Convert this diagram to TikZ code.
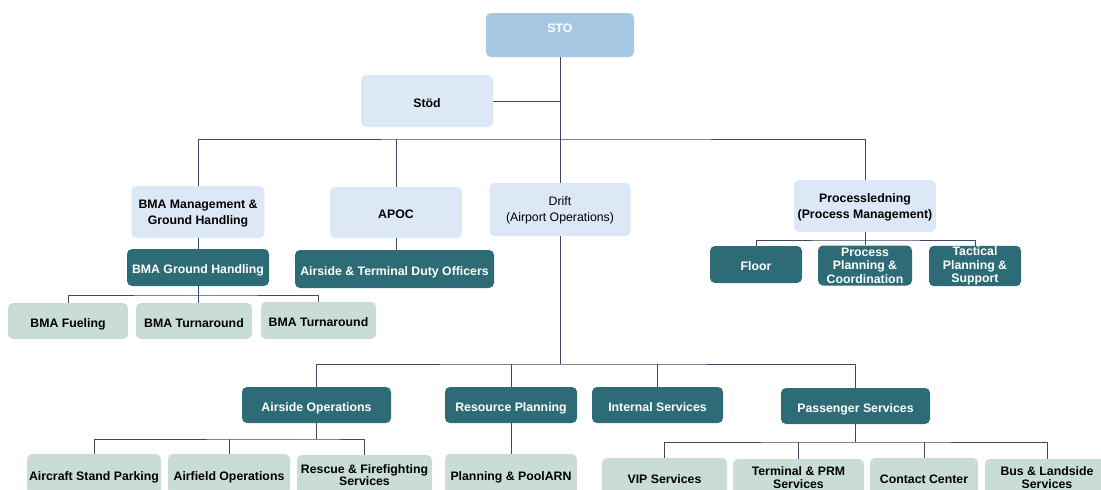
\documentclass[tikz,border=0pt]{standalone}
\usepackage{fontspec}
\setmainfont{Liberation Sans}
\definecolor{stoblue}{HTML}{A6C8E3}
\definecolor{paleblue}{HTML}{DDE8F6}
\definecolor{darkteal}{HTML}{2D6C76}
\definecolor{palegreen}{HTML}{C9DDD6}
\definecolor{linkcol}{HTML}{3D4766}
\begin{document}
\begin{tikzpicture}[x=1pt,y=-1pt,line join=round,
	font=\fontsize{12.3}{16}\selectfont,
	box/.style={rounded corners=5pt,inner sep=1pt,align=center},
	oneline/.style={text height=12.8pt,text depth=0pt},
	twoline/.style={text depth=-9pt},
	head/.style={box,fill=stoblue,text=white,font=\fontsize{12.3}{13}\selectfont\bfseries},
	unit/.style={box,fill=paleblue,text=black,font=\fontsize{12.3}{16}\selectfont\bfseries},
	team/.style={box,fill=darkteal,text=white,font=\fontsize{12.3}{16}\selectfont\bfseries},
	leaf/.style={box,fill=palegreen,text=black,font=\fontsize{12.3}{16}\selectfont\bfseries},
	link/.style={draw=linkcol,line width=0.8pt}]
	
	\useasboundingbox (0,0) rectangle (1101,490);
	\clip (0,0) rectangle (1101,490);
	
	% Nivå 1-2
	\node[head,minimum width=148,minimum height=44] (sto) at (560,35) {STO\\ \mbox{}};
	\node[unit,oneline,minimum width=132,minimum height=52] (stod) at (427,101) {Stöd};
	\node[unit,twoline,minimum width=133,minimum height=52] (bma) at (198,212) {BMA Management \&\\Ground Handling};
	\node[unit,oneline,minimum width=132,minimum height=51] (apoc) at (396,212.5) {APOC};
	\node[unit,twoline,minimum width=141,minimum height=53,font=\fontsize{12.3}{16}\selectfont] (drift) at (560,209.5) {Drift\\(Airport Operations)};
	\node[unit,twoline,minimum width=142,minimum height=52] (proc) at (865,206) {Processledning\\(Process Management)};
	
	% Nivå 3
	\node[team,oneline,minimum width=142,minimum height=37] (bmagh) at (198,267.5) {BMA Ground Handling};
	\node[team,oneline,minimum width=199,minimum height=38] (atdo) at (394.5,269) {Airside \& Terminal Duty Officers};
	\node[team,oneline,minimum width=92,minimum height=37] (floor) at (756,264.5) {Floor};
	\node[team,minimum width=94,minimum height=40,font=\fontsize{12.3}{13.5}\selectfont\bfseries] (ppc) at (865,265.5) {Process\\Planning \&\\Coordination};
	\node[team,minimum width=92,minimum height=37,font=\fontsize{12.3}{13.5}\selectfont\bfseries] (tps) at (975,266) {Tactical\\Planning \&\\Support};
	\node[leaf,oneline,minimum width=120,minimum height=36] (fuel) at (68,321) {BMA Fueling};
	\node[leaf,oneline,minimum width=116,minimum height=36] (turnA) at (194,321) {BMA Turnaround};
	\node[leaf,oneline,minimum width=115,minimum height=37] (turnB) at (318.5,320.5) {BMA Turnaround};
	
	% Drift
	\node[team,oneline,minimum width=149,minimum height=36] (airops) at (316.5,405) {Airside Operations};
	\node[team,oneline,minimum width=132,minimum height=36] (resplan) at (511,405) {Resource Planning};
	\node[team,oneline,minimum width=131,minimum height=36] (intserv) at (657.5,405) {Internal Services};
	\node[team,oneline,minimum width=149,minimum height=36] (passerv) at (855.5,406) {Passenger Services};
	\node[leaf,oneline,minimum width=134,minimum height=40] (asp) at (94,474) {Aircraft Stand Parking};
	\node[leaf,oneline,minimum width=122,minimum height=40] (afo) at (229,474) {Airfield Operations};
	\node[leaf,minimum width=135,minimum height=40,font=\fontsize{12.3}{12.5}\selectfont\bfseries] (rfs) at (364.5,475) {Rescue \& Firefighting\\Services};
	\node[leaf,oneline,minimum width=132,minimum height=40] (pool) at (511,474) {Planning \& PoolARN};
	\node[leaf,oneline,minimum width=125,minimum height=38] (vip) at (664.5,477) {VIP Services};
	\node[leaf,minimum width=131,minimum height=38,font=\fontsize{12.3}{13}\selectfont\bfseries] (tprm) at (798.5,478) {Terminal \& PRM\\Services};
	\node[leaf,oneline,minimum width=108,minimum height=38] (cc) at (924,477) {Contact Center};
	\node[leaf,minimum width=124,minimum height=38,font=\fontsize{12.3}{13}\selectfont\bfseries] (bls) at (1047,478) {Bus \& Landside\\Services};
	
	% Linjer
	\coordinate (busTop) at (560,139);
	\coordinate (busGH) at (198,295);
	\coordinate (busPM) at (865,240);
	\coordinate (busDr) at (560,364);
	\coordinate (busAO) at (317,439);
	\coordinate (busPS) at (856,442);
	\draw[link] (sto) -- (drift);
	\draw[link] (stod.east) -- (stod.east -| sto.south);
	\draw[link] (bma.north) |- (busTop) -| (proc.north);
	\draw[link] (apoc.north) -- (apoc.north |- busTop);
	\draw[link] (bma) -- (bmagh);
	\draw[link] (apoc.south) -- (apoc.south |- atdo.north);
	\draw[link] (fuel.north) |- (busGH) -| (turnB.north);
	\draw[link] (bmagh.south) -- (bmagh.south |- turnA.north);
	\draw[link] (floor.north) |- (busPM) -| (tps.north);
	\draw[link] (proc.south) -- (proc.south |- ppc.north);
	\draw[link] (drift.south) -- (busDr);
	\draw[link] (airops.north) |- (busDr) -| (passerv.north);
	\foreach \n in {resplan,intserv}
		\draw[link] (\n.north) -- (\n.north |- busDr);
	\draw[link] (airops.south) -- (airops.south |- busAO);
	\draw[link] (asp.north) |- (busAO) -| (rfs.north);
	\draw[link] (afo.north) -- (afo.north |- busAO);
	\draw[link] (resplan.south) -- (resplan.south |- pool.north);
	\draw[link] (passerv.south) -- (passerv.south |- busPS);
	\draw[link] (vip.north) |- (busPS) -| (bls.north);
	\foreach \n in {tprm,cc}
		\draw[link] (\n.north) -- (\n.north |- busPS);
\end{tikzpicture}
\end{document}
